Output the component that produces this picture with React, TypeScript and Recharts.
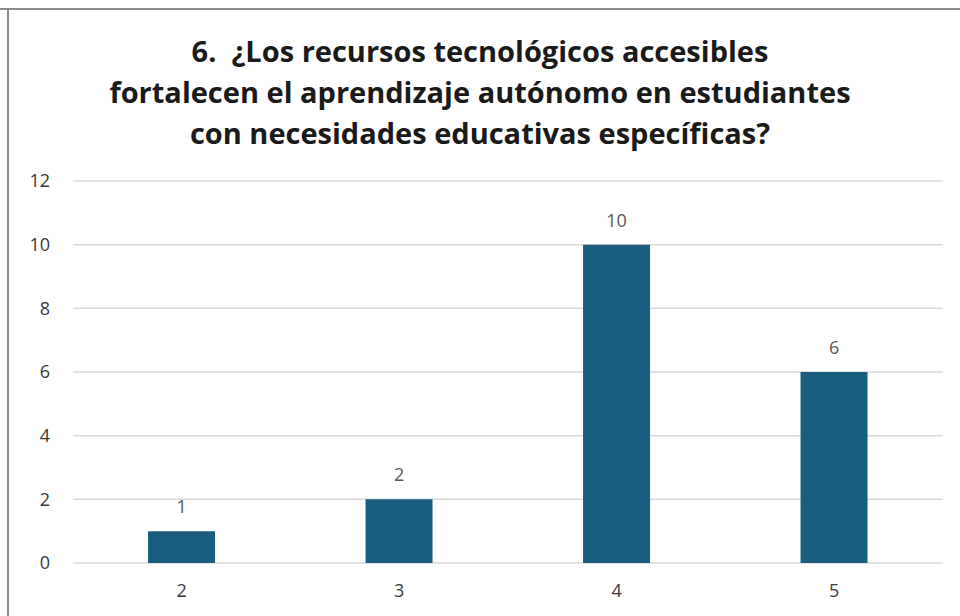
import { Bar, BarChart, CartesianGrid, LabelList, XAxis, YAxis } from "recharts";

const categories = ["2", "3", "4", "5"];
const counts = [1, 2, 10, 6];
const yTicks = [0, 2, 4, 6, 8, 10, 12];
const titleLines = [
  "6.  ¿Los recursos tecnológicos accesibles",
  "fortalecen el aprendizaje autónomo en estudiantes",
  "con necesidades educativas específicas?",
];

const BAR_COLOR = "#195e80";
const GRID = "#d9d9d9";
const LABEL = "#595959";
const FONT = "'Open Sans', 'Liberation Sans', sans-serif";

const rows = categories.map((label, i) => ({ label, count: counts[i] }));

export default function App() {
  return (
    <div style={{ position: "absolute", left: 0, top: 0, width: 960, height: 616, background: "#fff", overflow: "hidden" }}>
      {/* frame of the original screenshot: top and left edges only */}
      <div style={{ position: "absolute", left: 0, top: 8, width: 960, height: 1.5, background: "#8c8c8c" }} />
      <div style={{ position: "absolute", left: 7, top: 8, width: 1.5, height: 608, background: "#8c8c8c" }} />

      <div
        style={{
          position: "absolute",
          left: 0,
          top: 30,
          width: 960,
          textAlign: "center",
          whiteSpace: "pre",
          fontFamily: FONT,
          fontWeight: 700,
          fontSize: 29,
          lineHeight: "41px",
          color: "#1a1a1a",
          letterSpacing: 0,
        }}
      >
        {titleLines.map((line) => (
          <div key={line}>{line}</div>
        ))}
      </div>

      <div style={{ position: "absolute", left: 0, top: 0 }}>
        <BarChart
          width={960}
          height={616}
          data={rows}
          margin={{ top: 181, right: 17, bottom: 0, left: 0 }}
          barCategoryGap="34.5%"
        >
          <CartesianGrid vertical={false} stroke={GRID} strokeWidth={1.5} />
          <XAxis
            dataKey="label"
            axisLine={false}
            tickLine={false}
            tickSize={0}
            tickMargin={21}
            height={53}
            tick={{ fill: "#3a3a3a", fontSize: 18, fontFamily: FONT }}
          />
          <YAxis
            domain={[0, 12]}
            ticks={yTicks}
            width={73}
            axisLine={false}
            tickLine={false}
            tickSize={0}
            tickMargin={23}
            tick={{ fill: "#3a3a3a", fontSize: 18, fontFamily: FONT }}
          />
          <Bar dataKey="count" fill={BAR_COLOR} isAnimationActive={false}>
            <LabelList dataKey="count" position="top" offset={18} style={{ fill: LABEL, fontSize: 18, fontFamily: FONT }} />
          </Bar>
        </BarChart>
      </div>
    </div>
  );
}
